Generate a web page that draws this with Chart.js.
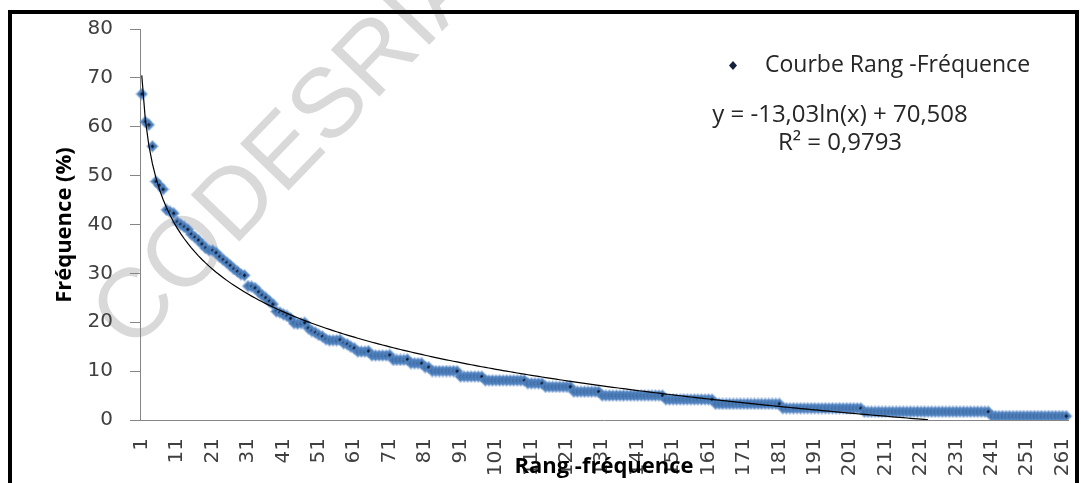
<!DOCTYPE html>
<html>
<head>
<meta charset="utf-8">
<script src="https://cdn.jsdelivr.net/npm/chart.js@4"></script>
<style>
    html, body { margin: 0; padding: 0; background: #ffffff; }
    #wrap { position: relative; width: 1081px; height: 483px; }
</style>
</head>
<body>
<div id="wrap"><canvas id="rankChart"></canvas></div>
<script>
// Fréquence (%) par rang (rangs 1 à 262)
const frequencies = [
    66.7, 61.0, 60.4, 56.0, 48.8, 48.0, 47.2, 43.0, 42.6, 42.3,
    40.5, 40.0, 39.5, 39.0, 38.0, 37.4, 36.8, 36.0, 35.2, 34.7,
    34.7, 34.2, 33.4, 32.8, 32.2, 31.6, 30.9, 30.4, 29.8, 29.6,
    27.4, 27.3, 27.0, 26.2, 25.5, 25.0, 24.3, 23.7, 22.2, 22.0,
    21.6, 21.3, 20.8, 19.8, 19.7, 19.8, 19.9, 18.8, 18.2, 17.9,
    17.4, 17.1, 16.5, 16.3, 16.3, 16.3, 16.4, 15.7, 15.5, 15.0,
    14.7, 14.0, 14.0, 14.0, 14.1, 13.2, 13.2, 13.2, 13.2, 13.2,
    13.3, 12.3, 12.3, 12.3, 12.3, 12.4, 11.6, 11.6, 11.6, 11.6,
    10.8, 10.8, 10.0, 10.0, 10.0, 10.0, 10.0, 10.0, 10.0, 10.0,
    8.9, 8.9, 8.9, 8.9, 8.9, 8.9, 8.9, 8.1, 8.1, 8.1,
    8.1, 8.1, 8.1, 8.1, 8.1, 8.1, 8.1, 8.1, 8.1, 7.5,
    7.5, 7.5, 7.5, 7.5, 6.8, 6.8, 6.8, 6.8, 6.8, 6.8,
    6.8, 6.8, 5.8, 5.8, 5.8, 5.8, 5.8, 5.8, 5.8, 5.8,
    5.0, 5.0, 5.0, 5.0, 5.0, 5.0, 5.0, 5.0, 5.0, 5.0,
    5.0, 5.0, 5.0, 5.0, 5.0, 5.0, 5.0, 5.0, 4.2, 4.2,
    4.2, 4.2, 4.2, 4.2, 4.2, 4.2, 4.2, 4.2, 4.2, 4.2,
    4.2, 4.2, 3.3, 3.3, 3.3, 3.3, 3.3, 3.3, 3.3, 3.3,
    3.3, 3.3, 3.3, 3.3, 3.3, 3.3, 3.3, 3.3, 3.3, 3.3,
    3.3, 2.4, 2.4, 2.4, 2.4, 2.4, 2.4, 2.4, 2.4, 2.4,
    2.4, 2.4, 2.4, 2.4, 2.4, 2.4, 2.4, 2.4, 2.4, 2.4,
    2.4, 2.4, 2.4, 2.4, 1.7, 1.7, 1.7, 1.7, 1.7, 1.7,
    1.7, 1.7, 1.7, 1.7, 1.7, 1.7, 1.7, 1.7, 1.7, 1.7,
    1.7, 1.7, 1.7, 1.7, 1.7, 1.7, 1.7, 1.7, 1.7, 1.7,
    1.7, 1.7, 1.7, 1.7, 1.7, 1.7, 1.7, 1.7, 1.7, 1.7,
    0.8, 0.8, 0.8, 0.8, 0.8, 0.8, 0.8, 0.8, 0.8, 0.8,
    0.8, 0.8, 0.8, 0.8, 0.8, 0.8, 0.8, 0.8, 0.8, 0.8,
    0.8, 0.8
];

// rangs (catégories de l'axe X)
const ranks = frequencies.map((v, i) => String(i + 1));

// courbe de tendance logarithmique affichée sur la figure
const trendSlope = -13.03;
const trendIntercept = 70.508;
const trendText = 'y = -13,03ln(x) + 70,508';
const r2Text = 'R² = 0,9793';

const yTicks = [0, 10, 20, 30, 40, 50, 60, 70, 80];

const seriesLabel = 'Courbe Rang -Fréquence';
const yTitle = 'Fréquence (%)';
const xTitle = 'Rang -fréquence';

function trendValues() {
    return ranks.map(r => {
        const y = trendIntercept + trendSlope * Math.log(Number(r));
        return y >= 0 ? y : null;
    });
}

function makeMarker() {
    const c = document.createElement('canvas');
    c.width = 13;
    c.height = 13;
    const g = c.getContext('2d');
    const diamond = (r, color) => {
        g.fillStyle = color;
        g.beginPath();
        g.moveTo(6.5, 6.5 - r);
        g.lineTo(6.5 + r, 6.5);
        g.lineTo(6.5, 6.5 + r);
        g.lineTo(6.5 - r, 6.5);
        g.closePath();
        g.fill();
    };
    diamond(6.4, 'rgba(92, 140, 200, 0.55)');
    diamond(5, '#4a7ebb');
    diamond(1.9, '#101a30');
    return c;
}

const extrasPlugin = {
    id: 'extras',
    beforeDraw(chart) {
        const ctx = chart.ctx;
        ctx.save();
        ctx.fillStyle = '#ffffff';
        ctx.fillRect(0, 0, chart.width, chart.height);
        // filigrane
        ctx.translate(290, 150);
        ctx.rotate(-46 * Math.PI / 180);
        ctx.font = '98px "Liberation Sans"';
        ctx.fillStyle = '#d9d9d9';
        ctx.textAlign = 'center';
        ctx.textBaseline = 'middle';
        ctx.fillText('CODESRIA', 0, 0);
        ctx.restore();
    },
    afterDraw(chart) {
        const ctx = chart.ctx;
        ctx.save();

        // légende
        ctx.fillStyle = '#14213d';
        ctx.beginPath();
        ctx.moveTo(733, 61);
        ctx.lineTo(737, 65.5);
        ctx.lineTo(733, 70);
        ctx.lineTo(729, 65.5);
        ctx.closePath();
        ctx.fill();

        ctx.fillStyle = '#262626';
        ctx.font = '23px "Open Sans"';
        ctx.textAlign = 'left';
        ctx.textBaseline = 'middle';
        ctx.fillText(seriesLabel, 765, 65);

        ctx.textAlign = 'center';
        ctx.font = '24px "Open Sans"';
        ctx.fillText(trendText, 840, 115);
        ctx.fillText(r2Text, 840, 143);

        // titres des axes
        ctx.font = 'bold 22px "Open Sans"';
        ctx.fillStyle = '#000000';
        ctx.fillText(xTitle, 604, 467);
        ctx.save();
        ctx.translate(65, 225);
        ctx.rotate(-Math.PI / 2);
        ctx.fillText(yTitle, 0, 0);
        ctx.restore();

        // cadre noir
        ctx.strokeStyle = '#000000';
        ctx.lineWidth = 4;
        ctx.beginPath();
        ctx.moveTo(10, 490);
        ctx.lineTo(10, 12);
        ctx.lineTo(1077, 12);
        ctx.lineTo(1077, 490);
        ctx.stroke();
        ctx.restore();
    }
};

function initChart() {
    const ctx = document.getElementById('rankChart').getContext('2d');
    new Chart(ctx, {
        type: 'line',
        data: {
            labels: ranks,
            datasets: [{
                label: 'tendance',
                data: trendValues(),
                borderColor: '#000000',
                borderWidth: 1.2,
                pointRadius: 0,
                fill: false,
                tension: 0,
                order: 0
            }, {
                label: seriesLabel,
                data: frequencies,
                showLine: false,
                pointStyle: makeMarker(),
                pointRadius: 6,
                order: 1
            }]
        },
        options: {
            responsive: true,
            maintainAspectRatio: false,
            animation: false,
            devicePixelRatio: 1,
            layout: { padding: { left: 0, top: 28, right: 13, bottom: 0 } },
            plugins: {
                legend: { display: false },
                tooltip: { enabled: false }
            },
            scales: {
                x: {
                    offset: true,
                    grid: { drawOnChartArea: false, drawTicks: false },
                    border: { color: '#868686', width: 1 },
                    ticks: {
                        autoSkip: false,
                        maxRotation: 90,
                        minRotation: 90,
                        padding: 18,
                        color: '#404040',
                        font: { family: 'DejaVu Sans', size: 20 },
                        callback: (v, i) => (i % 10 === 0 ? ranks[i] : '')
                    },
                    afterFit: s => {
                        s.height = 63;
                        s.paddingLeft = 0;
                        s.paddingRight = 0;
                    }
                },
                y: {
                    min: 0,
                    max: 80,
                    afterBuildTicks: s => { s.ticks = yTicks.map(v => ({ value: v })); },
                    grid: { drawOnChartArea: false, drawTicks: true, tickLength: 10, color: '#868686' },
                    border: { color: '#868686', width: 1 },
                    ticks: {
                        padding: 17,
                        color: '#404040',
                        font: { family: 'DejaVu Sans', size: 20 }
                    },
                    afterFit: s => { s.width = 140; }
                }
            }
        },
        plugins: [extrasPlugin]
    });
}

document.addEventListener('DOMContentLoaded', initChart);
</script>
</body>
</html>
